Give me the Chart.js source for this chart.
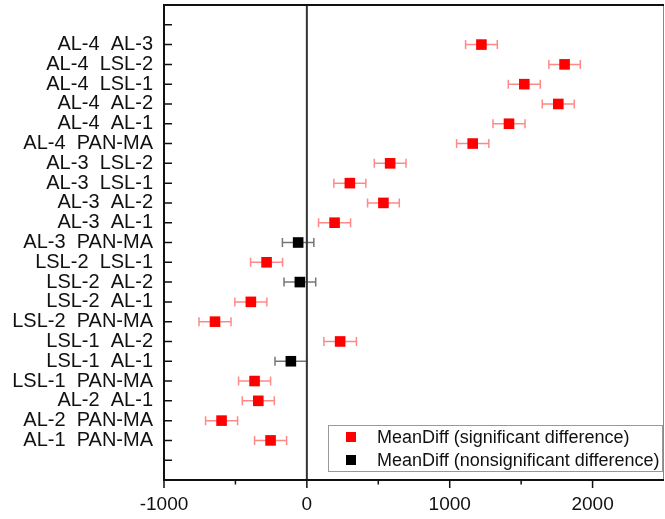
<!DOCTYPE html>
<html>
<head>
<meta charset="utf-8">
<script src="https://cdn.jsdelivr.net/npm/chart.js@4/dist/chart.umd.min.js"></script>
<style>
  html, body { margin: 0; padding: 0; background: #fff; }
  canvas { display: block; }
</style>
</head>
<body>
<canvas id="c" width="665" height="519"></canvas>
<script>
// ---- data ----
const categories = [
  'AL-4  AL-3', 'AL-4  LSL-2', 'AL-4  LSL-1', 'AL-4  AL-2', 'AL-4  AL-1', 'AL-4  PAN-MA',
  'AL-3  LSL-2', 'AL-3  LSL-1', 'AL-3  AL-2', 'AL-3  AL-1', 'AL-3  PAN-MA',
  'LSL-2  LSL-1', 'LSL-2  AL-2', 'LSL-2  AL-1', 'LSL-2  PAN-MA',
  'LSL-1  AL-2', 'LSL-1  AL-1', 'LSL-1  PAN-MA',
  'AL-2  AL-1', 'AL-2  PAN-MA', 'AL-1  PAN-MA'
];
const meanDiff = [1222, 1804, 1522, 1760, 1415, 1161, 583, 301, 536, 194, -61,
                  -282, -49, -392, -643, 233, -112, -366, -340, -597, -254];
const errHalf  = [111, 110, 112, 112, 112, 113, 111, 112, 111, 112, 110,
                  112, 111, 112, 112, 114, 111, 112, 112, 112, 112];
const significant = [true, true, true, true, true, true, true, true, true, true, false,
                     true, false, true, true, true, false, true, true, true, true];
const xTickValues = [-1000, 0, 1000, 2000];
const xMinorValues = [-500, 500, 1500];
const seriesLabels = ['MeanDiff (significant difference)', 'MeanDiff (nonsignificant difference)'];
const seriesColors = ['#ff0000', '#000000'];
const errColors = ['rgba(255,40,40,0.55)', 'rgba(60,60,60,0.7)'];

// y positions: index 1..21 top to bottom, with empty slots 0 and 22
const yTickValues = [];
for (let i = 0; i <= categories.length + 1; i++) yTickValues.push(i);

function pts(sig) {
  const out = [];
  meanDiff.forEach((v, i) => {
    if (significant[i] === sig) out.push({ x: v, y: i + 1, e: errHalf[i] });
  });
  return out;
}

const FONT = 'Liberation Sans, Arial, Helvetica, sans-serif';

const framePlugin = {
  id: 'frame',
  beforeDatasetsDraw(chart) {
    const { ctx, chartArea: a, scales: { x, y } } = chart;
    ctx.save();
    // zero line
    const x0 = x.getPixelForValue(0);
    ctx.strokeStyle = '#333';
    ctx.lineWidth = 2;
    ctx.beginPath(); ctx.moveTo(x0, a.top); ctx.lineTo(x0, a.bottom); ctx.stroke();
    // error bars
    chart.data.datasets.forEach((ds, di) => {
      ctx.strokeStyle = errColors[di];
      ctx.lineWidth = 1.5;
      ds.data.forEach(p => {
        const py = y.getPixelForValue(p.y);
        const xl = x.getPixelForValue(p.x - p.e);
        const xr = x.getPixelForValue(p.x + p.e);
        ctx.beginPath();
        ctx.moveTo(xl, py); ctx.lineTo(xr, py);
        ctx.moveTo(xl, py - 4.5); ctx.lineTo(xl, py + 4.5);
        ctx.moveTo(xr, py - 4.5); ctx.lineTo(xr, py + 4.5);
        ctx.stroke();
      });
    });
    ctx.restore();
  },
  afterDraw(chart) {
    const { ctx, chartArea: a, scales: { x, y } } = chart;
    ctx.save();
    // right border (thin grey)
    ctx.strokeStyle = '#888';
    ctx.lineWidth = 1;
    ctx.beginPath(); ctx.moveTo(a.right - 0.5, a.top); ctx.lineTo(a.right - 0.5, a.bottom); ctx.stroke();
    // left, bottom, top borders
    ctx.strokeStyle = '#111';
    ctx.lineWidth = 2;
    ctx.beginPath();
    ctx.moveTo(a.left, a.top); ctx.lineTo(a.left, a.bottom + 1);
    ctx.moveTo(a.left - 1, a.bottom); ctx.lineTo(a.right, a.bottom);
    ctx.moveTo(a.left - 1, a.top); ctx.lineTo(a.right, a.top);
    ctx.stroke();
    // y ticks (inward)
    ctx.lineWidth = 1.5;
    ctx.beginPath();
    yTickValues.forEach(v => {
      const py = y.getPixelForValue(v);
      ctx.moveTo(a.left, py); ctx.lineTo(a.left + 8, py);
    });
    // x ticks (outward)
    xTickValues.forEach(v => {
      const px = x.getPixelForValue(v);
      ctx.moveTo(px, a.bottom); ctx.lineTo(px, a.bottom + 8);
    });
    xMinorValues.forEach(v => {
      const px = x.getPixelForValue(v);
      ctx.moveTo(px, a.bottom); ctx.lineTo(px, a.bottom + 4.5);
    });
    ctx.stroke();
    // legend
    const bx = 328.5, by = 425.5, bw = 334, bh = 46;
    ctx.fillStyle = '#fff';
    ctx.fillRect(bx, by, bw, bh);
    ctx.strokeStyle = '#999';
    ctx.lineWidth = 1;
    ctx.strokeRect(bx, by, bw, bh);
    ctx.font = '18px ' + FONT;
    ctx.textBaseline = 'middle';
    ctx.textAlign = 'left';
    seriesLabels.forEach((lab, i) => {
      const cy = 437 + i * 23;
      ctx.fillStyle = seriesColors[i];
      ctx.fillRect(346, cy - 5, 10, 10);
      ctx.fillStyle = '#111';
      ctx.fillText(lab, 377, cy + 1);
    });
    ctx.restore();
  }
};

new Chart(document.getElementById('c'), {
  type: 'scatter',
  data: {
    datasets: [
      { label: seriesLabels[0], data: pts(true), backgroundColor: seriesColors[0], borderColor: seriesColors[0],
        pointStyle: 'rect', pointRadius: 7.5, pointHoverRadius: 7.5, borderWidth: 0 },
      { label: seriesLabels[1], data: pts(false), backgroundColor: seriesColors[1], borderColor: seriesColors[1],
        pointStyle: 'rect', pointRadius: 7.5, pointHoverRadius: 7.5, borderWidth: 0 }
    ]
  },
  options: {
    responsive: false,
    animation: false,
    layout: { autoPadding: false, padding: { top: 5, right: 1, left: 0, bottom: 0 } },
    plugins: { legend: { display: false }, tooltip: { enabled: false } },
    scales: {
      x: {
        type: 'linear', min: -1000, max: 2500,
        afterBuildTicks: s => { s.ticks = xTickValues.map(v => ({ value: v })); },
        afterFit: s => { s.height = 39; s.paddingLeft = 0; s.paddingRight = 0; },
        grid: { display: false, drawTicks: false },
        border: { display: false },
        ticks: { font: { family: FONT, size: 19 }, color: '#111', padding: 13, maxRotation: 0,
                 callback: v => String(v) }
      },
      y: {
        type: 'linear', reverse: true, min: -1, max: categories.length + 2,
        afterBuildTicks: s => { s.ticks = yTickValues.map(v => ({ value: v })); },
        afterFit: s => { s.width = 164; s.paddingTop = 0; s.paddingBottom = 0; },
        grid: { display: false, drawTicks: false },
        border: { display: false },
        ticks: { font: { family: FONT, size: 20 }, color: '#111', padding: 11, autoSkip: false,
                 callback: v => categories[v - 1] || '' }
      }
    }
  },
  plugins: [framePlugin]
});
</script>
</body>
</html>
